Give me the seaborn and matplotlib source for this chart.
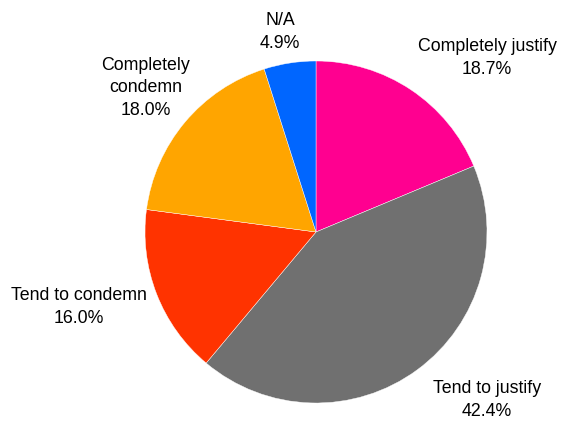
import matplotlib
matplotlib.use("Agg")
import matplotlib.pyplot as plt
import seaborn as sns

sns.set_style("white")
plt.rcParams['font.family'] = ['Liberation Sans', 'DejaVu Sans']

# 数据
categories = ["Completely justify", "Tend to justify", "Tend to condemn", "Completely\ncondemn", "N/A"]
shares = [18.7, 42.4, 16.0, 18.0, 4.9]
colors = ["#FF0090", "#707070", "#FF3300", "#FFA500", "#0066FF"]

# 标签位置 (像素)
label_pos = [(487, 363), (487, 21), (79, 114), (146, 333), (280, 389)]

fig = plt.figure(figsize=(5.61, 4.21), dpi=100)
ax = fig.add_axes([0, 0, 1, 1])
ax.pie(shares, colors=colors, startangle=90, counterclock=False,
       center=(316, 189), radius=171,
       wedgeprops=dict(linewidth=0.3, edgecolor="white"))
for name, val, (x, y) in zip(categories, shares, label_pos):
    ax.text(x, y, f"{name}\n{val:.1f}%", ha="center", va="center",
            fontsize=12.8, linespacing=1.4, color="#000000")
ax.set_xlim(0, 561)
ax.set_ylim(0, 421)
ax.set_aspect("equal")
ax.axis("off")
fig.savefig("out.png", dpi=100)
